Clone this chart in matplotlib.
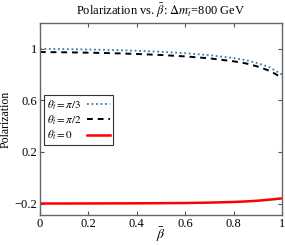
import matplotlib
matplotlib.use("Agg")
import matplotlib.pyplot as plt
import numpy as np

plt.rcParams['font.family'] = ['Liberation Serif', 'DejaVu Serif']
plt.rcParams['mathtext.fontset'] = 'stix'

beta = [0.0, 0.1, 0.2, 0.3, 0.4, 0.5, 0.6, 0.7, 0.8, 0.85, 0.9, 0.95, 1.0]
pol_pi3 = [1.0, 0.998, 0.995, 0.991, 0.985, 0.977, 0.966, 0.951, 0.928, 0.912, 0.888, 0.855, 0.80]
pol_pi2 = [0.975, 0.973, 0.970, 0.966, 0.960, 0.952, 0.941, 0.926, 0.903, 0.887, 0.862, 0.828, 0.775]
pol_0 = [-0.200, -0.200, -0.1995, -0.199, -0.1985, -0.1975, -0.196, -0.193, -0.188, -0.184, -0.178, -0.170, -0.160]

fig = plt.figure(figsize=(2.85, 2.45), dpi=100)
ax = fig.add_axes([0.14, 0.122, 0.85, 0.784])

ax.plot(beta, pol_pi3, linestyle=(0, (1, 1.5)), color='#3a7ca5', lw=1.3, label=r'$\theta_{\tilde{t}}=\pi/3$')
ax.plot(beta, pol_pi2, linestyle=(0, (3, 2.5)), color='black', lw=1.4, label=r'$\theta_{\tilde{t}}=\pi/2$')
ax.plot(beta, pol_0, linestyle='-', color='#ff0000', lw=1.8, label=r'$\theta_{\tilde{t}}=0$')

ax.set_xlim(0, 1)
ax.set_ylim(-0.29, 1.2)
ax.set_xticks([0, 0.2, 0.4, 0.6, 0.8, 1])
ax.set_xticklabels(['0', '0.2', '0.4', '0.6', '0.8', '1'])
ax.set_yticks([-0.2, 0.2, 0.6, 1])
ax.set_yticklabels(['\u22120.2', '0.2', '0.6', '1'])
ax.tick_params(direction='in', top=True, right=True, labelsize=9, length=3, color='#555555', pad=2)
for s in ax.spines.values():
    s.set_color('#666666')
    s.set_linewidth(1.0)

ax.set_title(r'Polarization vs. $\bar{\beta}$: $\Delta m_{\tilde{t}}$=800 GeV', fontsize=9, pad=6)
ax.set_xlabel(r'$\bar{\beta}$', fontsize=10, labelpad=-3)
ax.set_ylabel('Polarization', fontsize=8.5, labelpad=2)

leg = ax.legend(loc='center left', bbox_to_anchor=(0.015, 0.495), markerfirst=False, fontsize=8,
                frameon=True, fancybox=False, edgecolor='black', handlelength=2.0,
                borderpad=0.3, labelspacing=0.15, handletextpad=0.5, borderaxespad=0)
leg.get_frame().set_linewidth(0.8)

# left-align legend labels while keeping handles aligned on the right
fig.canvas.draw()
r = fig.canvas.get_renderer()
widths = [t.get_window_extent(r).width for t in leg.texts]
maxw = max(widths)
col = leg._legend_handle_box.get_children()[0]
col.align = 'left'
for row, w in zip(col.get_children(), widths):
    row.sep = row.sep + (maxw - w) * 72.0 / fig.dpi

fig.savefig('out.png', dpi=100)
